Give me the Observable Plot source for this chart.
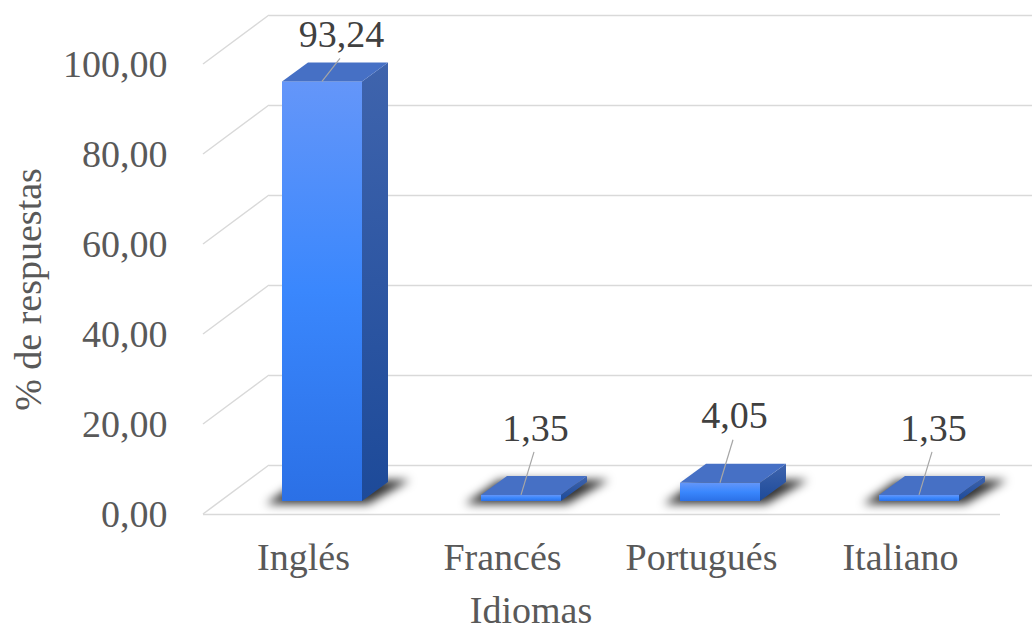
<!DOCTYPE html>
<html>
<head>
<meta charset="utf-8">
<script src="https://cdn.jsdelivr.net/npm/d3@7"></script>
<script src="https://cdn.jsdelivr.net/npm/@observablehq/plot@0.6"></script>
<style>
  html, body { margin: 0; padding: 0; background: #ffffff; overflow: hidden; }
  #chart { width: 1032px; height: 630px; }
</style>
</head>
<body>
<div id="chart"></div>
<script>
// ---- Data ----
const idiomas = ["Inglés", "Francés", "Portugués", "Italiano"];
const porcentajes = [93.24, 1.35, 4.05, 1.35];
const yTicks = [0, 20, 40, 60, 80, 100];
const xTitle = "Idiomas";
const yTitle = "% de respuestas";

const data = idiomas.map((d, i) => ({idioma: d, valor: porcentajes[i]}));

// ---- Style / pseudo-3D geometry ----
const FONT = "'Liberation Serif', 'Times New Roman', serif";
const WALL = [66, -49];   // offset of the back wall
const FRONT = [19, -13];  // offset of bar front faces
const DEPTH = [26, -19];  // bar depth
const GRID = "#d9d9d9";
const fmt = v => v.toFixed(2).replace(".", ",");
const labelOffset = v => v > 50 ? {dx: 38, dy: -60} : {dx: 33, dy: -80};

const svgNS = "http://www.w3.org/2000/svg";

function diagonals(index, scales, values, dimensions) {
  const g = d3.create("svg:g");
  const x0 = dimensions.marginLeft;
  for (const i of index) {
    const y = values.y[i];
    g.append("line")
      .attr("x1", x0).attr("y1", y)
      .attr("x2", x0 + WALL[0]).attr("y2", y + WALL[1])
      .attr("stroke", GRID).attr("stroke-width", 1.5);
  }
  return g.node();
}

function prism(index, scales, values, dimensions, context, next) {
  const node = next(index, scales, values, dimensions, context);
  const g = d3.select(node);
  const defs = g.insert("defs", ":first-child");
  const fg = defs.append("linearGradient").attr("id", "gFront").attr("x1", 0).attr("y1", 0).attr("x2", 0).attr("y2", 1);
  fg.append("stop").attr("offset", 0).attr("stop-color", "#6496f9");
  fg.append("stop").attr("offset", 0.5).attr("stop-color", "#3a87fd");
  fg.append("stop").attr("offset", 1).attr("stop-color", "#2b70e6");
  const sg = defs.append("linearGradient").attr("id", "gSide").attr("x1", 0).attr("y1", 0).attr("x2", 0).attr("y2", 1);
  sg.append("stop").attr("offset", 0).attr("stop-color", "#3f64ad");
  sg.append("stop").attr("offset", 1).attr("stop-color", "#1d4a99");
  const f = defs.append("filter").attr("id", "shadowBlur")
    .attr("x", "-50%").attr("y", "-50%").attr("width", "200%").attr("height", "200%");
  f.append("feGaussianBlur").attr("stdDeviation", 5);

  const rects = g.selectAll("rect").nodes();
  const ids = Array.from(index);
  rects.forEach((r, k) => {
    const x = +r.getAttribute("x"), y = +r.getAttribute("y");
    const w = +r.getAttribute("width"), h = +r.getAttribute("height");
    const yb = y + h;
    const [dx, dy] = DEPTH;
    // shadow on the floor
    const sh = document.createElementNS(svgNS, "polygon");
    sh.setAttribute("points", [
      [x - 16, yb + 3], [x + w + 6, yb + 3],
      [x + w + dx + 22, yb + dy - 2], [x + dx - 8, yb + dy - 2]
    ].map(p => p.join(",")).join(" "));
    sh.setAttribute("fill", "#000");
    sh.setAttribute("fill-opacity", 0.8);
    sh.setAttribute("filter", "url(#shadowBlur)");
    r.parentNode.insertBefore(sh, r);
    r.setAttribute("fill", "url(#gFront)");
    // side face
    const side = document.createElementNS(svgNS, "polygon");
    side.setAttribute("points", [
      [x + w, y], [x + w + dx, y + dy], [x + w + dx, yb + dy], [x + w, yb]
    ].map(p => p.join(",")).join(" "));
    side.setAttribute("fill", "url(#gSide)");
    r.parentNode.appendChild(side);
    // top face
    const top = document.createElementNS(svgNS, "polygon");
    top.setAttribute("points", [
      [x, y], [x + w, y], [x + w + dx, y + dy], [x + dx, y + dy]
    ].map(p => p.join(",")).join(" "));
    top.setAttribute("fill", "#4670c5");
    r.parentNode.appendChild(top);
    // leader line to the data label
    const v = data[ids[k]].valor;
    const o = labelOffset(v);
    const cx = x + w / 2;
    const line = document.createElementNS(svgNS, "line");
    line.setAttribute("x1", cx); line.setAttribute("y1", y);
    line.setAttribute("x2", cx + (o.dx - 1 - FRONT[0]));
    line.setAttribute("y2", y + (o.dy + 24 - FRONT[1]));
    line.setAttribute("stroke", "#a6a6a6");
    line.setAttribute("stroke-width", 1.2);
    r.parentNode.appendChild(line);
  });
  return node;
}

const plot = Plot.plot({
  width: 1032,
  height: 630,
  marginLeft: 203,
  marginRight: 32,
  marginTop: 64,
  marginBottom: 116,
  style: {fontFamily: FONT, background: "#ffffff", overflow: "hidden"},
  x: {type: "band", domain: idiomas, paddingInner: 0.6, paddingOuter: 0.3},
  y: {domain: [0, 100]},
  marks: [
    // back wall gridlines
    Plot.ruleY(yTicks, {y: d => d, stroke: GRID, strokeWidth: 1.5, dx: WALL[0], dy: WALL[1]}),
    // perspective side lines
    Plot.ruleY(yTicks, {y: d => d, render: diagonals}),
    // front floor edge
    Plot.ruleY([0], {stroke: GRID, strokeWidth: 1.5}),
    // bars (pseudo-3D prisms)
    Plot.barY(data, {x: "idioma", y: "valor", dx: FRONT[0], dy: FRONT[1], render: prism}),
    // data labels
    Plot.text(data.filter(d => d.valor > 50), {
      x: "idioma", y: "valor", text: d => fmt(d.valor),
      dx: labelOffset(100).dx, dy: labelOffset(100).dy,
      fontSize: 38, fill: "#404040", fontFamily: FONT
    }),
    Plot.text(data.filter(d => d.valor <= 50), {
      x: "idioma", y: "valor", text: d => fmt(d.valor),
      dx: labelOffset(0).dx, dy: labelOffset(0).dy,
      fontSize: 38, fill: "#404040", fontFamily: FONT
    }),
    // axes
    Plot.axisY(yTicks, {
      tickSize: 0, tickPadding: 36, tickFormat: fmt, label: null,
      fontSize: 38, fill: "#595959", fontFamily: FONT
    }),
    Plot.axisX({
      tickSize: 0, tickPadding: 29, label: null,
      fontSize: 38, fill: "#595959", fontFamily: FONT
    }),
    // axis titles
    Plot.text([yTitle], {
      frameAnchor: "left", dx: -175, rotate: -90, text: d => d,
      textAnchor: "middle", lineAnchor: "middle",
      fontSize: 38, fill: "#595959", fontFamily: FONT
    }),
    Plot.text([xTitle], {
      frameAnchor: "bottom", dx: -71, dy: 96, text: d => d,
      textAnchor: "middle", lineAnchor: "middle",
      fontSize: 38, fill: "#595959", fontFamily: FONT
    })
  ]
});

document.getElementById("chart").appendChild(plot);
</script>
</body>
</html>
